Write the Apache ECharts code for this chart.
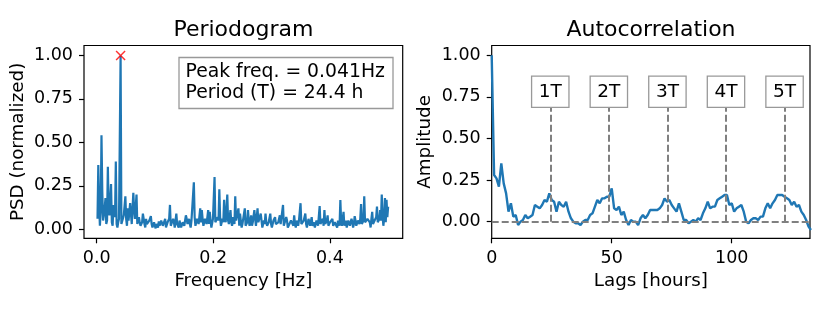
<!DOCTYPE html>
<html>
<head>
<meta charset="utf-8">
<script src="https://cdn.jsdelivr.net/npm/echarts@6/dist/echarts.min.js"></script>
<style>
html,body{margin:0;padding:0;background:#fff;}
#chart{width:830px;height:312px;}
</style>
</head>
<body>
<div id="chart"></div>
<script>
// ---- data ----
const nHours = 732; // length of the hourly record
// periodogram, normalized PSD for frequency k/nHours, k = 1..366
const psdValues = [
0.06,0.37,0.15,0.02,0.10,0.54,0.22,0.05,0.08,0.12,0.18,0.03,0.05,0.36,0.12,0.08,0.09,0.26,0.04,0.02,
0.14,0.10,0.07,0.39,0.03,0.01,0.04,0.06,0.05,1.00,0.03,0.04,0.03,0.08,0.08,0.19,0.06,0.02,0.12,0.05,
0.04,0.15,0.09,0.03,0.02,0.21,0.11,0.06,0.05,0.20,0.03,0.02,0.07,0.04,0.02,0.01,0.04,0.09,0.06,0.03,
0.01,0.06,0.03,0.02,0.02,0.05,0.04,0.075,0.03,0.01,0.01,0.04,0.02,0.005,0.03,0.03,0.01,0.045,0.02,0.01,
0.05,0.04,0.02,0.02,0.03,0.06,0.01,0.01,0.04,0.03,0.06,0.14,0.02,0.02,0.03,0.06,0.04,0.01,0.02,0.09,
0.03,0.02,0.01,0.05,0.05,0.01,0.02,0.04,0.04,0.02,0.03,0.08,0.06,0.03,0.02,0.06,0.03,0.01,0.05,0.05,
0.04,0.27,0.07,0.02,0.02,0.06,0.05,0.03,0.03,0.12,0.04,0.11,0.06,0.02,0.02,0.06,0.05,0.03,0.04,0.11,
0.03,0.10,0.05,0.01,0.02,0.06,0.06,0.30,0.04,0.03,0.03,0.07,0.05,0.23,0.07,0.02,0.02,0.06,0.04,0.17,
0.06,0.04,0.03,0.20,0.05,0.03,0.02,0.11,0.04,0.02,0.07,0.06,0.03,0.19,0.05,0.04,0.04,0.12,0.02,0.09,
0.05,0.01,0.03,0.06,0.06,0.12,0.02,0.03,0.04,0.11,0.05,0.02,0.03,0.08,0.02,0.04,0.04,0.11,0.06,0.02,
0.02,0.12,0.04,0.03,0.03,0.09,0.05,0.01,0.02,0.05,0.03,0.09,0.04,0.02,0.02,0.04,0.05,0.09,0.03,0.01,
0.02,0.05,0.04,0.07,0.03,0.02,0.02,0.04,0.05,0.08,0.03,0.02,0.04,0.14,0.02,0.03,0.03,0.07,0.05,0.01,
0.02,0.03,0.03,0.05,0.04,0.06,0.02,0.08,0.03,0.01,0.05,0.04,0.02,0.05,0.04,0.15,0.03,0.02,0.02,0.05,
0.04,0.09,0.03,0.01,0.02,0.06,0.05,0.02,0.03,0.07,0.02,0.03,0.04,0.01,0.03,0.05,0.05,0.02,0.02,0.134,
0.03,0.03,0.04,0.06,0.02,0.11,0.03,0.02,0.05,0.08,0.02,0.01,0.04,0.04,0.03,0.06,0.02,0.02,0.04,0.05,
0.03,0.01,0.05,0.04,0.02,0.168,0.04,0.02,0.03,0.10,0.02,0.03,0.05,0.01,0.03,0.05,0.04,0.02,0.02,0.06,
0.04,0.01,0.03,0.075,0.05,0.02,0.02,0.05,0.04,0.03,0.06,0.145,0.03,0.02,0.05,0.19,0.04,0.03,0.03,0.06,
0.05,0.07,0.04,0.01,0.06,0.10,0.03,0.02,0.05,0.06,0.07,0.13,0.04,0.03,0.06,0.11,0.05,0.20,0.08,0.02,
0.06,0.18,0.04,0.17,0.07,0.13
];
// autocorrelation for lags 0..133 hours
const acfValues = [
1.00,0.28,0.26,0.21,0.35,0.23,0.17,0.06,0.11,0.03,
0.04,-0.02,0.00,0.01,0.04,0.02,0.03,0.04,0.10,0.09,
0.08,0.10,0.13,0.12,0.17,0.13,0.12,0.06,0.12,0.10,
0.09,0.12,0.06,0.02,0.00,-0.01,-0.01,-0.02,0.00,0.01,
0.01,0.04,0.05,0.09,0.13,0.11,0.14,0.14,0.15,0.15,
0.20,0.08,0.07,0.09,0.04,0.06,0.01,-0.02,0.01,0.00,
0.00,-0.02,0.02,0.04,0.02,0.04,0.07,0.07,0.07,0.07,
0.08,0.10,0.14,0.12,0.13,0.10,0.08,0.06,0.11,0.06,
0.01,0.01,-0.01,0.00,0.01,0.00,0.02,0.01,0.05,0.08,
0.12,0.08,0.09,0.09,0.13,0.14,0.15,0.16,0.16,0.10,
0.11,0.06,0.08,0.09,0.10,0.06,0.00,-0.01,0.01,0.02,
0.02,0.01,0.03,0.03,0.08,0.11,0.08,0.11,0.13,0.16,
0.16,0.16,0.15,0.14,0.13,0.10,0.12,0.09,0.10,0.06,
0.04,0.01,-0.03,-0.05
];
const periodMultiples = [24.4, 48.8, 73.2, 97.6, 122.0];
const periodLabels = ['1T','2T','3T','4T','5T'];
const peakText = ['Peak freq. = 0.041Hz', 'Period (T) = 24.4 h'];
const psdTicks = [0, 0.25, 0.5, 0.75, 1.0];
const freqTicks = [0, 0.2, 0.4];
const ampTicks = [0, 0.25, 0.5, 0.75, 1.0];
const lagTicks = [0, 50, 100];

// ---- build ----
const psdData = psdValues.map((v, i) => [(i + 1) / nHours, v]);
const acfData = acfValues.map((v, i) => [i, v]);
let peakIdx = 0;
psdValues.forEach((v, i) => { if (v > psdValues[peakIdx]) peakIdx = i; });
const peakPoint = psdData[peakIdx];

const FONT = 'DejaVu Sans';
const BLUE = '#1f77b4';
const GRAY = '#808080';

function axisCommon(ticks, fmt) {
  return {
    axisLine: {show: false, onZero: false},
    axisTick: {show: true, length: 5, lineStyle: {color: '#000', width: 1.2}, customValues: ticks},
    axisLabel: {show: true, color: '#000', fontFamily: FONT, fontSize: 17.5, margin: 11,
                customValues: ticks, formatter: fmt},
    splitLine: {show: false}
  };
}

const chart = echarts.init(document.getElementById('chart'), null, {renderer: 'canvas'});
const option = {
  animation: false,
  backgroundColor: '#fff',
  textStyle: {fontFamily: FONT},
  title: [
    {text: 'Periodogram', left: 243.4, top: 19, textAlign: 'center', padding: 0,
     textStyle: {fontFamily: FONT, fontSize: 22, fontWeight: 'normal', color: '#000'}},
    {text: 'Autocorrelation', left: 651, top: 19, textAlign: 'center', padding: 0,
     textStyle: {fontFamily: FONT, fontSize: 22, fontWeight: 'normal', color: '#000'}},
    {text: peakText.join('\n'), left: 178.5, top: 57.5, padding: [4.5, 8, 4.5, 7],
     borderColor: '#999', borderWidth: 1.3, backgroundColor: '#fff',
     textStyle: {fontFamily: FONT, fontSize: 18.8, fontWeight: 'normal', color: '#000', lineHeight: 21}}
  ],
  grid: [
    {left: 84, top: 45.5, width: 318.7, height: 192.8, show: true, borderColor: '#000', borderWidth: 1.2, backgroundColor: 'transparent'},
    {left: 491.7, top: 45.5, width: 318.3, height: 192.8, show: true, borderColor: '#000', borderWidth: 1.2, backgroundColor: 'transparent'}
  ],
  xAxis: [
    Object.assign({type: 'value', gridIndex: 0, min: -0.0218, max: 0.525,
      name: 'Frequency [Hz]', nameLocation: 'middle', nameGap: 32,
      nameTextStyle: {fontFamily: FONT, fontSize: 18.3, color: '#000'}},
      axisCommon(freqTicks, v => v.toFixed(1))),
    Object.assign({type: 'value', gridIndex: 1, min: 0, max: 132.6,
      name: 'Lags [hours]', nameLocation: 'middle', nameGap: 32,
      nameTextStyle: {fontFamily: FONT, fontSize: 18.3, color: '#000'}},
      axisCommon(lagTicks, v => String(Math.round(v))))
  ],
  yAxis: [
    Object.assign({type: 'value', gridIndex: 0, min: -0.052, max: 1.057,
      name: 'PSD (normalized)', nameLocation: 'middle', nameGap: 57, nameRotate: 90,
      nameTextStyle: {fontFamily: FONT, fontSize: 18.3, color: '#000'}},
      axisCommon(psdTicks, v => v.toFixed(2))),
    Object.assign({type: 'value', gridIndex: 1, min: -0.1, max: 1.058,
      name: 'Amplitude', nameLocation: 'middle', nameGap: 57, nameRotate: 90,
      nameTextStyle: {fontFamily: FONT, fontSize: 18.3, color: '#000'}},
      axisCommon(ampTicks, v => v.toFixed(2)))
  ],
  series: [
    {type: 'line', xAxisIndex: 0, yAxisIndex: 0, data: psdData, showSymbol: false,
     lineStyle: {color: BLUE, width: 2.2}, itemStyle: {color: BLUE}, clip: true},
    {type: 'scatter', xAxisIndex: 0, yAxisIndex: 0, data: [peakPoint],
     symbol: 'path://M0,0L10,10M10,0L0,10', symbolSize: 9,
     itemStyle: {color: 'rgba(0,0,0,0)', borderColor: '#ff0000', borderWidth: 1.5}, z: 5},
    {type: 'line', xAxisIndex: 1, yAxisIndex: 1, data: acfData, showSymbol: false,
     lineStyle: {color: BLUE, width: 2.4}, itemStyle: {color: BLUE}, clip: true, z: 3,
     markLine: {
       silent: true, symbol: 'none', animation: false,
       lineStyle: {color: GRAY, type: [7, 3], width: 2},
       data: [{yAxis: 0, label: {show: false}}].concat(periodMultiples.map((p, i) => [
         {coord: [p, 0]},
         {coord: [p, 0.69], label: {show: true, position: 'end', distance: 0, formatter: periodLabels[i],
           fontFamily: FONT, fontSize: 18.5, color: '#000', backgroundColor: '#fff',
           borderColor: '#999', borderWidth: 1.3, padding: [6, 6.5, 5, 6.5]}}
       ]))
     }}
  ]
};
chart.setOption(option);
</script>
</body>
</html>
